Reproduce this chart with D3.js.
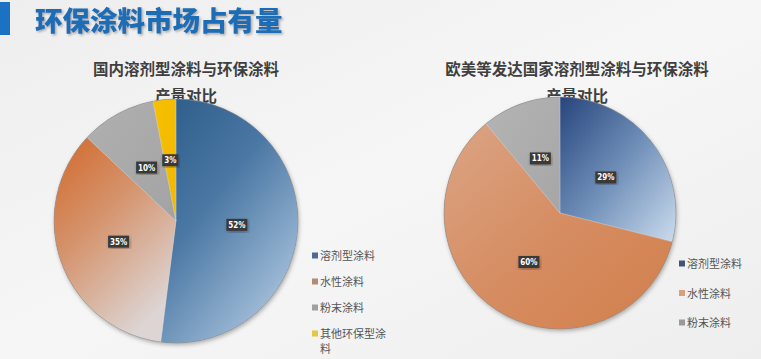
<!DOCTYPE html>
<html><head><meta charset="utf-8">
<script src="https://cdn.jsdelivr.net/npm/d3@7"></script>
<style>
html,body{margin:0;padding:0;background:#f1f1f1;}
svg{display:block;}
</style></head>
<body>
<svg id="c" width="761" height="359"></svg>
<script>
const pageTitle = "环保涂料市场占有量";
const leftTitle = ["国内溶剂型涂料与环保涂料", "产量对比"];
const rightTitle = ["欧美等发达国家溶剂型涂料与环保涂料", "产量对比"];
const leftCategories = ["溶剂型涂料", "水性涂料", "粉末涂料", "其他环保型涂料"];
const leftValues = [52, 35, 10, 3];
const rightCategories = ["溶剂型涂料", "水性涂料", "粉末涂料"];
const rightValues = [29, 60, 11];

const svg = d3.select("#c");
const defs = svg.append("defs");

// background
const bg = defs.append("linearGradient").attr("id","bg").attr("x1",0).attr("y1",0).attr("x2",1).attr("y2",1);
bg.append("stop").attr("offset","0%").attr("stop-color","#eeeeee");
bg.append("stop").attr("offset","50%").attr("stop-color","#f6f6f6");
bg.append("stop").attr("offset","100%").attr("stop-color","#eeeeee");
svg.append("rect").attr("width",761).attr("height",359).attr("fill","url(#bg)");

// shadow filters
const f = defs.append("filter").attr("id","sh").attr("x","-10%").attr("y","-10%").attr("width","120%").attr("height","120%");
f.append("feDropShadow").attr("dx",1).attr("dy",2).attr("stdDeviation",2).attr("flood-color","#000").attr("flood-opacity",0.3);
const ft = defs.append("filter").attr("id","tsh").attr("x","-5%").attr("y","-20%").attr("width","110%").attr("height","150%");
ft.append("feDropShadow").attr("dx",1.5).attr("dy",1.5).attr("stdDeviation",1).attr("flood-color","#555").attr("flood-opacity",0.45);

function grad(id, stops, x2, y2, x1=0, y1=0){
  const g = defs.append("linearGradient").attr("id",id)
    .attr("x1",x1).attr("y1",y1).attr("x2",x2).attr("y2",y2);
  stops.forEach(s=>g.append("stop").attr("offset",s[0]).attr("stop-color",s[1]));
}
grad("lBlue", [["0%","#2d5c88"],["45%","#4a77a3"],["100%","#a9c3dd"]], 0.7, 1);
grad("lOrange", [["0%","#d2682a"],["45%","#d5936c"],["100%","#dcd5d4"]], 0.6, 1);
grad("lGray", [["0%","#b0b0b0"],["100%","#a3a3a3"]], 1, 1);
grad("lYellow", [["0%","#f7c000"],["100%","#f2b800"]], 1, 1);
grad("rBlue", [["0%","#27457d"],["50%","#6f8fb8"],["100%","#ccdcee"]], 1, 1);
grad("rOrange", [["0%","#dba485"],["50%","#d68d62"],["100%","#d27f4c"]], 1, 1);
grad("rGray", [["0%","#b4b4b4"],["100%","#a6a6a6"]], 1, 1);

// header
svg.append("rect").attr("x",0).attr("y",2).attr("width",10).attr("height",33).attr("fill","#1b72c2");
svg.append("text").attr("x",35).attr("y",31).text(pageTitle)
  .attr("font-family","'Noto Sans CJK SC'").attr("font-weight",900).attr("font-size",27.5)
  .attr("fill","#1e6db5").attr("filter","url(#tsh)");

function drawPie(cfg){
  const g = svg.append("g");
  cfg.title.forEach((t,i)=>{
    g.append("text").attr("x",cfg.tx).attr("y",cfg.ty + i*27).attr("text-anchor","middle")
      .attr("font-family","'Noto Sans CJK SC'").attr("font-weight",700).attr("font-size",15.5)
      .attr("fill","#3f3f3f").text(t);
  });
  const pie = d3.pie().sort(null).value(d=>d.v);
  const data = pie(cfg.cats.map((c,i)=>({c, v:cfg.vals[i], fill:cfg.fills[i], lg:cfg.legendColors[i]})));
  const arc = d3.arc().innerRadius(0).outerRadius(cfg.r);
  const lab = d3.arc().innerRadius(cfg.r*0.5).outerRadius(cfg.r*0.5);
  const pg = g.append("g").attr("transform",`translate(${cfg.cx},${cfg.cy})`);
  pg.append("circle").attr("r",cfg.r).attr("fill","#999").attr("filter","url(#sh)");
  pg.selectAll("path").data(data).join("path").attr("d",arc).attr("fill",d=>d.data.fill)
    .attr("stroke","rgba(255,255,255,0.35)").attr("stroke-width",0.6);
  pg.append("circle").attr("r",cfg.r).attr("fill","none").attr("stroke","rgba(90,90,90,0.35)").attr("stroke-width",1);
  const lbls = pg.selectAll("g.l").data(data).join("g").attr("class","l")
    .attr("transform",d=>{const [x,y]=lab.centroid(d);return `translate(${x},${y})`;});
  lbls.each(function(d){
    const s = d3.select(this);
    const t = d.data.v + "%";
    const w = t.length*5 + 6;
    s.append("rect").attr("x",-w/2).attr("y",-6).attr("width",w).attr("height",12)
      .attr("fill","#3a3838").attr("filter","url(#sh)");
    s.append("text").attr("text-anchor","middle").attr("y",3).attr("font-size",8)
      .attr("font-weight",700).attr("font-family","'DejaVu Sans Condensed','DejaVu Sans'")
      .attr("fill","#ffffff").text(t);
  });
  // legend
  const lg = g.append("g");
  data.forEach((d,i)=>{
    const y = cfg.ly + i*cfg.lstep;
    lg.append("rect").attr("x",cfg.lx).attr("y",y-3.5).attr("width",6).attr("height",6).attr("fill",d.data.lg);
    const name = d.data.c;
    const lines = name.length > 6 ? [name.slice(0,6), name.slice(6)] : [name];
    lines.forEach((ln,j)=>{
      lg.append("text").attr("x",cfg.lx+8).attr("y",y+4 + j*15)
        .attr("font-family","'Noto Sans CJK SC'").attr("font-size",11).attr("fill","#555").text(ln);
    });
  });
}

drawPie({title:leftTitle, tx:186, ty:75, cx:176, cy:221, r:122,
  cats:leftCategories, vals:leftValues,
  fills:["url(#lBlue)","url(#lOrange)","url(#lGray)","url(#lYellow)"],
  legendColors:["#4e6a8e","#b08c78","#a0a0a0","#e8c640"],
  lx:312, ly:256, lstep:26});
drawPie({title:rightTitle, tx:577, ty:75, cx:560, cy:213, r:116,
  cats:rightCategories, vals:rightValues,
  fills:["url(#rBlue)","url(#rOrange)","url(#rGray)"],
  legendColors:["#3f5478","#d8a080","#9a9a9a"],
  lx:679, ly:264, lstep:29.5});
</script>
</body></html>
